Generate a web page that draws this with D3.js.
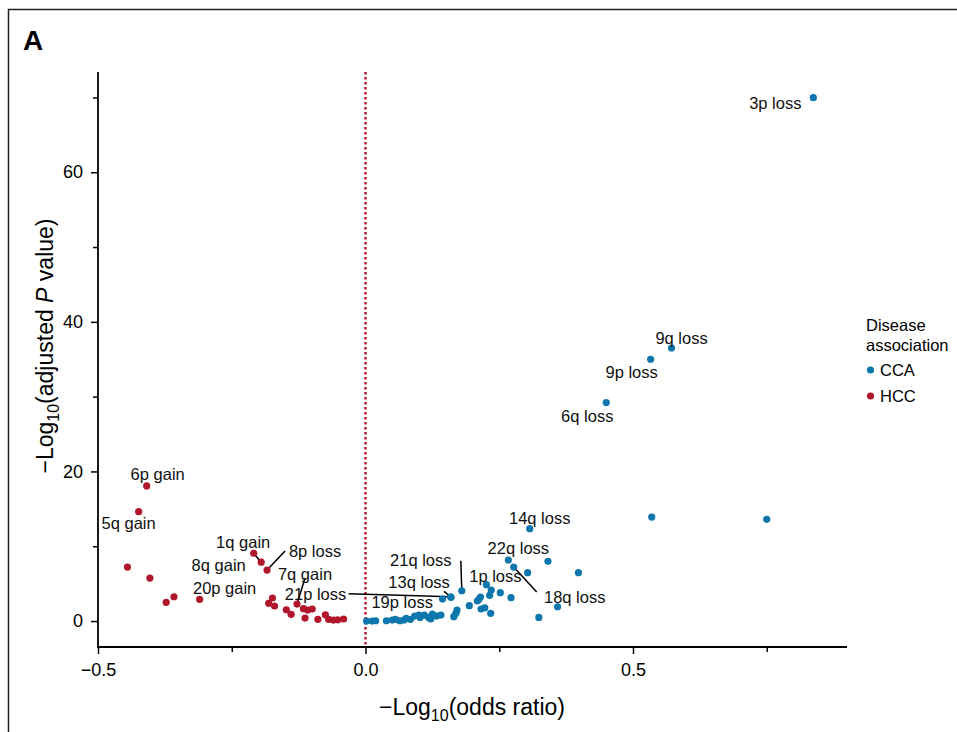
<!DOCTYPE html>
<html>
<head>
<meta charset="utf-8">
<script src="https://cdn.jsdelivr.net/npm/d3@7"></script>
<style>
  body { margin: 0; background: #fff; }
  text { font-family: "Liberation Sans", Arial, Helvetica, sans-serif; }
</style>
</head>
<body>
<script>
let w = 957;
let h = 732;

// CCA points (-log10 OR, -log10 adjusted p); labelled ones first
let ccaX = [0.837, 0.572, 0.533, 0.450, 0.307, 0.267, 0.277, 0.226, 0.180, 0.160, 0.159, 0.076,
  0.535, 0.750, 0.341, 0.303, 0.398, 0.235, 0.232, 0.252, 0.272, 0.144, 0.212, 0.215,
  0.209, 0.194, 0.223, 0.216, 0.234, 0.359, 0.324, 0.171, 0.169, 0.165,
  0.002, 0.0125, 0.019, 0.039, 0.050, 0.056, 0.064, 0.072, 0.084, 0.092, 0.100,
  0.110, 0.118, 0.122, 0.125, 0.133, 0.141, 0.102];
let ccaY = [69.97, 36.5, 35.0, 29.2, 12.35, 8.16, 7.22, 4.86, 4.05, 3.17, 3.25, 0.36,
  13.9, 13.6, 7.99, 6.46, 6.46, 4.15, 3.44, 3.79, 3.12, 2.94, 2.90, 3.21,
  2.68, 2.05, 1.78, 1.61, 1.03, 1.91, 0.49, 1.47, 1.03, 0.58,
  0.0, 0.0, 0.04, 0.04, 0.13, 0.23, 0.04, 0.13, 0.23, 0.67, 0.80,
  0.80, 0.49, 0.27, 0.94, 0.67, 0.80, 0.49];

// HCC points
let hccX = [-0.409, -0.424, -0.195, -0.209, -0.184, -0.128, -0.310,
  -0.445, -0.403, -0.3725, -0.358, -0.174, -0.181, -0.170, -0.148, -0.139,
  -0.116, -0.108, -0.0996, -0.113, -0.089, -0.075, -0.069, -0.060, -0.052, -0.041];
let hccY = [18.06, 14.62, 7.87, 9.06, 6.82, 2.27, 2.90,
  7.22, 5.75, 2.50, 3.25, 3.08, 2.37, 2.01, 1.51, 0.90,
  1.65, 1.47, 1.61, 0.40, 0.23, 0.84, 0.23, 0.13, 0.17, 0.27];

let ccaLabels = ["3p loss", "9q loss", "9p loss", "6q loss", "14q loss", "22q loss",
  "18q loss", "1p loss", "21q loss", "13q loss", "21p loss", "19p loss"];
let hccLabels = ["6p gain", "5q gain", "1q gain", "8q gain", "8p loss", "7q gain", "20p gain"];

let xTicks = [-0.5, 0, 0.5];
let xMinor = [-0.25, 0.25, 0.75];
let yTicks = [0, 20, 40, 60];
let yMinor = [10, 30, 50, 70];

let groups = ["CCA", "HCC"];
let colors = ["#0d77ad", "#b0172d"];

// label placement: text offset from point, optional leader start offset (px)
let ccaPlace = [[-38, 5], [10, -10], [-19, 13], [-19, 13], [10, -11], [10, -12],
  [61, 30, 23, 25], [9, -9], [-41, -31, -1, -30], [-32, -15, -7, -6],
  [-135, -3, -102, -3], [-4, -16]];
let hccPlace = [[11, -12], [-10, 11], [-18, -20, -9, -10.6], [-35, 12],
  [48, -19, 18, -19], [8, -30, 8, -26], [25, -11]];

let xScale = d3.scaleLinear()
  .domain([-0.5, 0.9])
  .range([98, 847]);

let yScale = d3.scaleLinear()
  .domain([-3.47, 73.4])
  .range([647, 72]);

let svg = d3.select("body")
  .append("svg")
  .attr("width", w)
  .attr("height", h);

// outer frame (top and left edges of the figure panel)
svg.append("path")
  .attr("d", "M8.5,732 V9.5 H957")
  .attr("fill", "none")
  .attr("stroke", "#222")
  .attr("stroke-width", 1.5);

svg.append("text")
  .attr("x", 23)
  .attr("y", 50)
  .attr("font-size", "28px")
  .attr("font-weight", "bold")
  .text("A");

// axes
let xAxis = svg.append("g")
  .attr("transform", "translate(0,647)")
  .call(d3.axisBottom(xScale).tickValues(xTicks).tickSize(7).tickSizeOuter(0)
    .tickFormat(d => d === 0 ? "0.0" : d3.format(".1f")(d).replace("-", "\u2212")));
xAxis.select(".domain").remove();
xAxis.selectAll("line").attr("stroke-width", 1.5);
xAxis.selectAll("text").attr("font-size", "18px").attr("dy", "1.05em")
  .attr("font-family", "Liberation Sans, Arial, sans-serif");

let xAxisMinor = svg.append("g")
  .attr("transform", "translate(0,647)")
  .call(d3.axisBottom(xScale).tickValues(xMinor).tickSize(5).tickFormat(""));
xAxisMinor.select(".domain").remove();
xAxisMinor.selectAll("line").attr("stroke-width", 1.5);

let yAxis = svg.append("g")
  .attr("transform", "translate(98,0)")
  .call(d3.axisLeft(yScale).tickValues(yTicks).tickSize(7));
yAxis.select(".domain").remove();
yAxis.selectAll("line").attr("stroke-width", 1.5);
yAxis.selectAll("text").attr("font-size", "18px").attr("x", -15)
  .attr("font-family", "Liberation Sans, Arial, sans-serif");

let yAxisMinor = svg.append("g")
  .attr("transform", "translate(98,0)")
  .call(d3.axisLeft(yScale).tickValues(yMinor).tickSize(5).tickFormat(""));
yAxisMinor.select(".domain").remove();
yAxisMinor.selectAll("line").attr("stroke-width", 1.5);

svg.append("path")
  .attr("d", "M" + xScale.range()[0] + "," + yScale.range()[1] +
    " V" + yScale.range()[0] + " H" + xScale.range()[1])
  .attr("fill", "none")
  .attr("stroke", "#000")
  .attr("stroke-width", 1.8);

// zero line
svg.append("line")
  .attr("x1", xScale(0)).attr("x2", xScale(0))
  .attr("y1", yScale.range()[1]).attr("y2", yScale.range()[0])
  .attr("stroke", "#c0142c")
  .attr("stroke-width", 2.4)
  .attr("stroke-dasharray", "2.5,2.5");

// axis titles
let xt = svg.append("text")
  .attr("x", 472)
  .attr("y", 715)
  .attr("text-anchor", "middle")
  .attr("font-size", "23px");
xt.append("tspan").text("\u2212Log");
xt.append("tspan").attr("font-size", "16px").attr("dy", 6).text("10");
xt.append("tspan").attr("dy", -6).text("(odds ratio)");

let yt = svg.append("text")
  .attr("transform", "translate(53,346) rotate(-90)")
  .attr("text-anchor", "middle")
  .attr("font-size", "23px");
yt.append("tspan").text("\u2212Log");
yt.append("tspan").attr("font-size", "16px").attr("dy", 6).text("10");
yt.append("tspan").attr("dy", -6).text("(adjusted ");
yt.append("tspan").attr("font-style", "italic").text("P");
yt.append("tspan").text(" value)");

// points and labels per group
let series = [
  { xs: ccaX, ys: ccaY, labels: ccaLabels, place: ccaPlace, color: colors[0] },
  { xs: hccX, ys: hccY, labels: hccLabels, place: hccPlace, color: colors[1] }
];

series.forEach(function(s) {
  let pts = s.xs.map((x, i) => ({ x: x, y: s.ys[i] }));

  let lab = s.labels.map((t, i) => ({ text: t, p: pts[i], o: s.place[i] }));

  svg.append("g").selectAll("line")
    .data(lab.filter(d => d.o.length > 2))
    .enter()
    .append("line")
    .attr("x1", d => xScale(d.p.x) + d.o[2])
    .attr("y1", d => yScale(d.p.y) + d.o[3])
    .attr("x2", d => xScale(d.p.x))
    .attr("y2", d => yScale(d.p.y))
    .attr("stroke", "#000")
    .attr("stroke-width", 1.5);

  svg.append("g").selectAll("circle")
    .data(pts)
    .enter()
    .append("circle")
    .attr("cx", d => xScale(d.x))
    .attr("cy", d => yScale(d.y))
    .attr("r", 3.6)
    .attr("fill", s.color);

  svg.append("g").selectAll("text")
    .data(lab)
    .enter()
    .append("text")
    .attr("x", d => xScale(d.p.x) + d.o[0])
    .attr("y", d => yScale(d.p.y) + d.o[1])
    .attr("text-anchor", "middle")
    .attr("dominant-baseline", "central")
    .attr("font-size", "16.5px")
    .attr("fill", "#111")
    .text(d => d.text);
});

// legend
let legend = svg.append("g").attr("transform", "translate(866,0)");
legend.append("text").attr("x", 0).attr("y", 325).attr("dominant-baseline", "central")
  .attr("font-size", "16.5px").text("Disease");
legend.append("text").attr("x", 0).attr("y", 345).attr("dominant-baseline", "central")
  .attr("font-size", "16.5px").text("association");

legend.selectAll("circle")
  .data(groups)
  .enter()
  .append("circle")
  .attr("cx", 4.5)
  .attr("cy", (_, i) => 370 + i * 26)
  .attr("r", 3.6)
  .attr("fill", (_, i) => colors[i]);

legend.selectAll(".lg")
  .data(groups)
  .enter()
  .append("text")
  .attr("class", "lg")
  .attr("x", 14)
  .attr("y", (_, i) => 370 + i * 26)
  .attr("dominant-baseline", "central")
  .attr("font-size", "16.5px")
  .text(d => d);
</script>
</body>
</html>
